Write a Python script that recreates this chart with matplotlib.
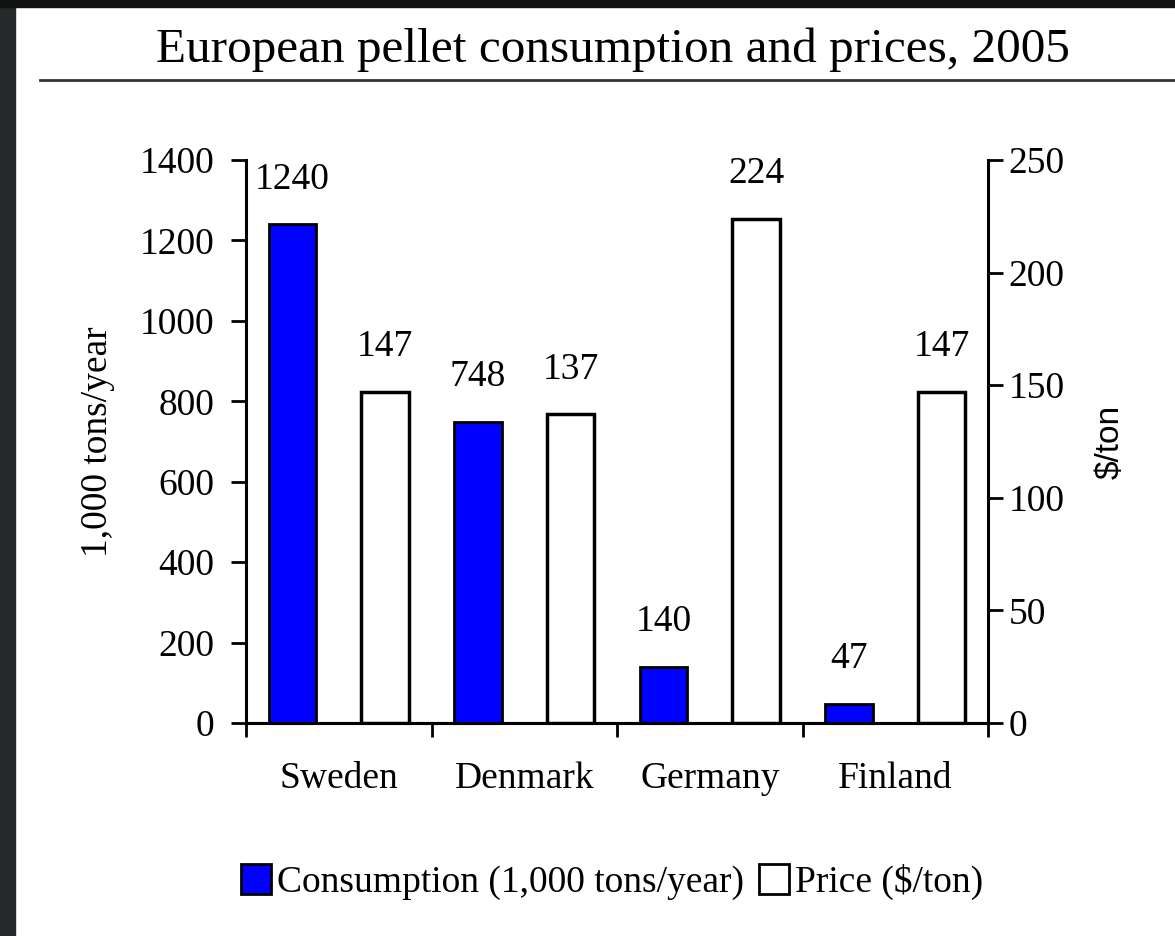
import numpy as np
import matplotlib
matplotlib.use("Agg")
import matplotlib.pyplot as plt
from matplotlib.patches import Rectangle, Patch
from matplotlib.lines import Line2D

countries = ["Sweden", "Denmark", "Germany", "Finland"]
consumption = [1240, 748, 140, 47]   # 1,000 tons/year
price = [147, 137, 224, 147]         # $/ton

serif = ["Liberation Serif", "DejaVu Serif"]
plt.rcParams["font.family"] = serif

fig = plt.figure(figsize=(11.75, 9.36), dpi=100)
fig.patch.set_facecolor("white")

# dark frame on left and top edges of the screenshot
fig.add_artist(Rectangle((0, 0), 15 / 1175, 1, transform=fig.transFigure,
                         color="#262a2a", zorder=0))
fig.add_artist(Rectangle((0, 1 - 7 / 936), 1, 7 / 936, transform=fig.transFigure,
                         color="#111111", zorder=0))

fig.text(0.522, 1 - 50 / 936, "European pellet consumption and prices, 2005",
         ha="center", va="center", fontsize=35.5)
fig.add_artist(Line2D([40 / 1175, 1], [1 - 80 / 936, 1 - 80 / 936],
                      transform=fig.transFigure, color="#333333", lw=2))

ax = fig.add_axes([246 / 1175, 1 - 723 / 936, (988 - 246) / 1175, (723 - 160) / 936])
ax2 = ax.twinx()

x = np.arange(len(countries))
w = 0.255
ax.bar(x - 0.25, consumption, w, color="#0000ff", edgecolor="black", lw=2, zorder=3)
ax2.bar(x + 0.25, price, w, color="white", edgecolor="black", lw=2.5, zorder=3)

fs = 27
for xi, v in zip(x - 0.25, consumption):
    ax.annotate(str(v), (xi, v), xytext=(0, 20), textcoords="offset points",
                ha="center", va="bottom", fontsize=fs)
for xi, v in zip(x + 0.25, price):
    ax2.annotate(str(v), (xi, v), xytext=(0, 20), textcoords="offset points",
                 ha="center", va="bottom", fontsize=fs)

ax.set_xlim(-0.5, 3.5)
ax.set_ylim(0, 1400)
ax2.set_ylim(0, 250)
ax.set_yticks(range(0, 1401, 200))
ax2.set_yticks(range(0, 251, 50))

ax.set_xticks(x)
ax.set_xticklabels(countries)
ax.set_xticks(np.arange(-0.5, 4, 1), minor=True)
ax.tick_params(axis="x", which="major", length=0, pad=28, labelsize=fs)
ax.tick_params(axis="x", which="minor", length=10, width=2, direction="out")
ax.tick_params(axis="y", length=11, width=2, direction="out", pad=12, labelsize=fs)
ax2.tick_params(axis="y", length=11, width=2, direction="out", pad=4, labelsize=fs)

for a in (ax, ax2):
    a.spines["top"].set_visible(False)
    for s in ("left", "right", "bottom"):
        a.spines[s].set_linewidth(2.2)
ax.spines["right"].set_visible(False)
ax2.spines["left"].set_visible(False)

ax.set_ylabel("1,000 tons/year", fontsize=fs)
ax.yaxis.set_label_coords(-0.177, 0.5)
ax2.set_ylabel("$/ton", fontsize=24, family=["Liberation Sans", "DejaVu Sans"])
ax2.yaxis.set_label_coords(1.144, 0.5)

handles = [Patch(facecolor="#0000ff", edgecolor="black", lw=2),
           Patch(facecolor="white", edgecolor="black", lw=2)]
fig.legend(handles, ["Consumption (1,000 tons/year)", "Price ($/ton)"],
           loc="center", bbox_to_anchor=(0.521, 1 - 882 / 936), ncol=2,
           frameon=False, fontsize=fs, handlelength=0.8, handleheight=0.85,
           handletextpad=0.15, columnspacing=0.4)

fig.savefig("out.png", dpi=100, facecolor="white")
